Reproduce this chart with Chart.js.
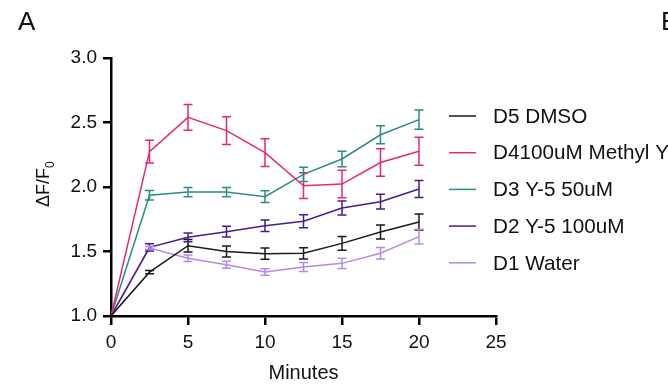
<!DOCTYPE html>
<html>
<head>
<meta charset="utf-8">
<script src="https://cdn.jsdelivr.net/npm/chart.js@4.4.1/dist/chart.umd.min.js"></script>
<style>
  html, body { margin: 0; padding: 0; background: #fff; }
  #wrap { width: 668px; height: 386px; }
</style>
</head>
<body>
<div id="wrap"><canvas id="chart" width="668" height="386"></canvas></div>
<script>
// time points (minutes)
const minutes = [0, 2.5, 5, 7.5, 10, 12.5, 15, 17.5, 20];

const seriesNames = ['D5 DMSO', 'D4100uM Methyl Y', 'D3 Y-5 50uM', 'D2 Y-5 100uM', 'D1 Water'];
const seriesColors = ['#1a1a1a', '#e3287a', '#2a8c86', '#4a1b8c', '#b38ae8'];

// mean dF/F0 per group
const dmso     = [1.0, 1.34, 1.545, 1.50, 1.483, 1.486, 1.563, 1.651, 1.729];
const methylY  = [1.0, 2.274, 2.54, 2.437, 2.266, 2.01, 2.023, 2.19, 2.277];
const y5_50    = [1.0, 1.936, 1.961, 1.961, 1.925, 2.098, 2.217, 2.405, 2.522];
const y5_100   = [1.0, 1.532, 1.61, 1.654, 1.70, 1.734, 1.837, 1.886, 1.984];
const water    = [1.0, 1.527, 1.447, 1.398, 1.341, 1.38, 1.408, 1.486, 1.615];

// SEM per group
const dmsoErr    = [0, 0.013, 0.048, 0.043, 0.044, 0.044, 0.053, 0.054, 0.062];
const methylYErr = [0, 0.088, 0.10, 0.108, 0.108, 0.10, 0.106, 0.107, 0.108];
const y5_50Err   = [0, 0.036, 0.036, 0.036, 0.046, 0.055, 0.06, 0.07, 0.075];
const y5_100Err  = [0, 0.028, 0.034, 0.041, 0.044, 0.05, 0.055, 0.057, 0.066];
const waterErr   = [0, 0.012, 0.025, 0.027, 0.026, 0.035, 0.039, 0.045, 0.057];

const yTicks = [1.0, 1.5, 2.0, 2.5, 3.0];
const xTicks = [0, 5, 10, 15, 20, 25];

const allValues = [dmso, methylY, y5_50, y5_100, water];
const allErrors = [dmsoErr, methylYErr, y5_50Err, y5_100Err, waterErr];

const FONT = 'Arial, "Liberation Sans", Helvetica, sans-serif';

function toPoints(values) {
    return values.map((v, i) => ({ x: minutes[i], y: v }));
}

const datasets = seriesNames.map((name, k) => ({
    label: name,
    data: toPoints(allValues[k]),
    errors: allErrors[k],
    borderColor: seriesColors[k],
    backgroundColor: seriesColors[k],
    borderWidth: 1.5,
    pointRadius: 0,
    tension: 0,
    fill: false
}));

// error bars with caps
const errorBars = {
    id: 'errorBars',
    afterDatasetsDraw(chart) {
        const ctx = chart.ctx;
        const xs = chart.scales.x, ys = chart.scales.y;
        ctx.save();
        chart.data.datasets.forEach(ds => {
            ctx.strokeStyle = ds.borderColor;
            ctx.lineWidth = 1.5;
            ds.data.forEach((p, i) => {
                const e = ds.errors[i];
                if (!e) return;
                const x = xs.getPixelForValue(p.x);
                const top = ys.getPixelForValue(p.y + e);
                const bot = ys.getPixelForValue(p.y - e);
                ctx.beginPath();
                ctx.moveTo(x, top); ctx.lineTo(x, bot);
                ctx.moveTo(x - 4.5, top); ctx.lineTo(x + 4.5, top);
                ctx.moveTo(x - 4.5, bot); ctx.lineTo(x + 4.5, bot);
                ctx.stroke();
            });
        });
        ctx.restore();
    }
};

// legend, panel letters and y title with subscript
const extras = {
    id: 'extras',
    afterDraw(chart) {
        const ctx = chart.ctx;
        ctx.save();
        ctx.fillStyle = '#111';
        ctx.textBaseline = 'middle';
        ctx.font = '20.7px ' + FONT;
        chart.data.datasets.forEach((ds, k) => {
            const y = 116 + k * 36.7;
            ctx.strokeStyle = ds.borderColor;
            ctx.lineWidth = 1.5;
            ctx.beginPath();
            ctx.moveTo(449, y); ctx.lineTo(476, y);
            ctx.stroke();
            ctx.fillText(ds.label, 493, y + 1);
        });

        ctx.textBaseline = 'alphabetic';
        ctx.font = '26px ' + FONT;
        ctx.fillText('A', 18, 30);
        ctx.fillText('B', 661, 30);

        // y axis title
        ctx.translate(49, 207);
        ctx.rotate(-Math.PI / 2);
        ctx.font = '18px ' + FONT;
        ctx.fillText('\u0394F/F', 0, 0);
        const w = ctx.measureText('\u0394F/F').width;
        ctx.font = '12px ' + FONT;
        ctx.fillText('0', w, 5);
        ctx.restore();
    }
};

new Chart(document.getElementById('chart'), {
    type: 'line',
    data: { datasets: datasets },
    options: {
        responsive: false,
        animation: false,
        devicePixelRatio: 1,
        layout: { padding: { left: 0, right: 172, top: 58, bottom: 0 } },
        plugins: {
            legend: { display: false },
            tooltip: { enabled: false }
        },
        scales: {
            x: {
                type: 'linear',
                min: 0,
                max: 25,
                afterFit(scale) { scale.height = 70; },
                afterBuildTicks(scale) { scale.ticks = xTicks.map(v => ({ value: v })); },
                grid: { display: true, drawOnChartArea: false, drawTicks: true, tickLength: 9, color: '#000', lineWidth: 2.5 },
                border: { display: true, color: '#000', width: 2.5 },
                ticks: { color: '#111', padding: 6, maxRotation: 0, font: { family: FONT, size: 19 } },
                title: { display: true, text: 'Minutes', color: '#111', font: { family: FONT, size: 20 }, padding: { top: 0, bottom: 1 } }
            },
            y: {
                min: 1,
                max: 3,
                afterFit(scale) { scale.width = 111; },
                afterBuildTicks(scale) { scale.ticks = yTicks.map(v => ({ value: v })); },
                grid: { display: true, drawOnChartArea: false, drawTicks: true, tickLength: 8, color: '#000', lineWidth: 2.5 },
                border: { display: true, color: '#000', width: 2.5 },
                ticks: {
                    color: '#111', padding: 6,
                    font: { family: FONT, size: 19 },
                    callback: v => v.toFixed(1)
                }
            }
        }
    },
    plugins: [errorBars, extras]
});
</script>
</body>
</html>
